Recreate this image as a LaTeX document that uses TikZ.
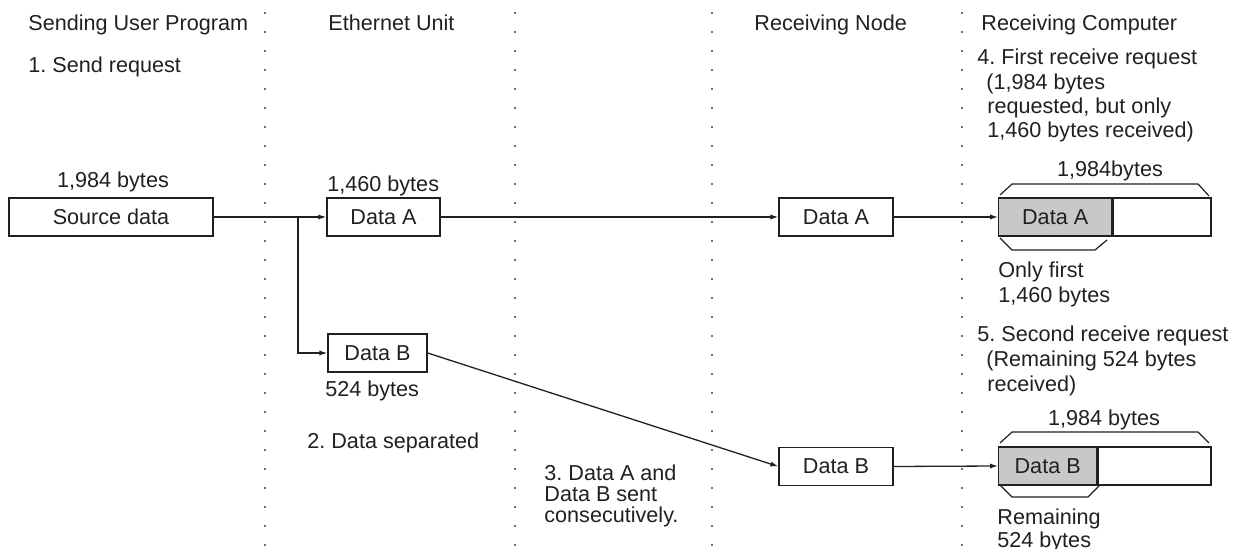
\documentclass[tikz,border=0pt]{standalone}
\usepackage{fontspec}
\setmainfont{Liberation Sans}
\usetikzlibrary{arrows.meta}
\definecolor{ink}{RGB}{35,31,32}
\definecolor{shade}{RGB}{200,200,200}
\begin{document}
\frenchspacing
\begin{tikzpicture}[x=0.5pt,y=-0.5pt,
  lbl/.style={text=ink, font=\fontsize{10.8}{12}\selectfont, inner sep=0pt, align=left},
  box/.style={draw=ink, text=ink, line width=0.65pt, inner sep=0pt, minimum height=19pt, font=\fontsize{10.8}{12}\selectfont},
  arr/.style={draw=ink, line width=0.65pt, -{Latex[length=4pt,width=2.6pt]}},
  sep/.style={draw=ink!65, line width=0.7pt, dash pattern=on 0.8pt off 8.7pt},
  brace/.style={draw=ink, line width=0.6pt}]
\useasboundingbox (0,0) rectangle (1245,549);

% separators
\draw[sep] (265,12) -- (265,548);
\draw[sep] (515,12) -- (515,548);
\draw[sep] (712,12) -- (712,548);
\draw[sep] (962,12) -- (962,548);

% headers
\node[lbl, anchor=base west] (h1) at (28,31) {Sending User Program};
\node[lbl, anchor=base west] (h2) at (328,31) {Ethernet Unit};
\node[lbl, anchor=base west] (h3) at (754,31) {Receiving Node};
\node[lbl, anchor=base west] (h4) at (981,31) {Receiving Computer};

% boxes
\node[box, minimum width=102pt] (src) at (111,217) {Source data};
\node[box, minimum width=56.5pt] (da) at (383.5,217) {Data A};
\node[box, minimum width=49.5pt] (db) at (377.5,353) {Data B};
\node[box, minimum width=57pt] (na) at (836,217) {Data A};
\node[box, minimum width=57pt] (nb) at (836,466.5) {Data B};
\node[box, fill=shade, minimum width=56.5pt, anchor=west] (ba) at (998,217) {Data A};
\node[box, minimum width=49pt, anchor=west] (bar) at (ba.east) {};
\node[box, fill=shade, minimum width=49pt, anchor=west] (bb) at (998,466) {Data B};
\node[box, minimum width=56.5pt, anchor=west] (bbr) at (bb.east) {};

% braces
\draw[brace] (1000,195) -- (1012,184) -- (1198,184) -- (1209,196);
\draw[brace] (1000,238) -- (1012,250) -- (1095,250) -- (1107,240);
\draw[brace] (1000,443) -- (1012,432) -- (1198,432) -- (1209,443);
\draw[brace] (1000,485) -- (1012,497) -- (1088,497) -- (1099,486);

% connectors
\coordinate (split) at (298,217);
\draw[arr] (src.east) -- (da.west);
\draw[arr] (split) |- (db.west);
\draw[arr] (da.east) -- (na.west);
\draw[arr] (db.east) -- (nb.west);
\draw[arr] (na.east) -- (ba.west);
\draw[arr] (nb.east) -- (bb.west);

% labels (multi-line: base = last line)
\node[lbl, anchor=base west] (t1) at (28,73) {1. Send request};
\node[lbl, anchor=base] (l1) at (113,188) {1,984 bytes};
\node[lbl, anchor=base west] (l2) at (327,192) {1,460 bytes};
\node[lbl, anchor=base west] (l3) at (325,397) {524 bytes};
\node[lbl, anchor=base west] (t2) at (307,448) {2. Data separated};
\node[lbl, anchor=base west, font=\fontsize{10.8}{10.5}\selectfont] (t3) at (544,522) {3. Data A and\\Data B sent\\consecutively.};
\node[lbl, anchor=base west, font=\fontsize{10.8}{12.2}\selectfont] (t4) at (977,138) {4. First receive request\\\hspace*{4.5pt}(1,984 bytes\\\hspace*{5pt}requested, but only\\\hspace*{5pt}1,460 bytes received)};
\node[lbl, anchor=base] (l4) at (1110,177) {1,984bytes};
\node[lbl, anchor=base west, font=\fontsize{10.8}{12.5}\selectfont] (l5) at (998,303) {Only first\\1,460 bytes};
\node[lbl, anchor=base west, font=\fontsize{10.8}{12.5}\selectfont] (t5) at (977,392) {5. Second receive request\\\hspace*{4.5pt}(Remaining 524 bytes\\\hspace*{5pt}received)};
\node[lbl, anchor=base] (l6) at (1104,425) {1,984 bytes};
\node[lbl, anchor=base west, font=\fontsize{10.8}{10}\selectfont] (l7) at (997,547) {Remaining\\524 bytes};
\end{tikzpicture}
\end{document}
